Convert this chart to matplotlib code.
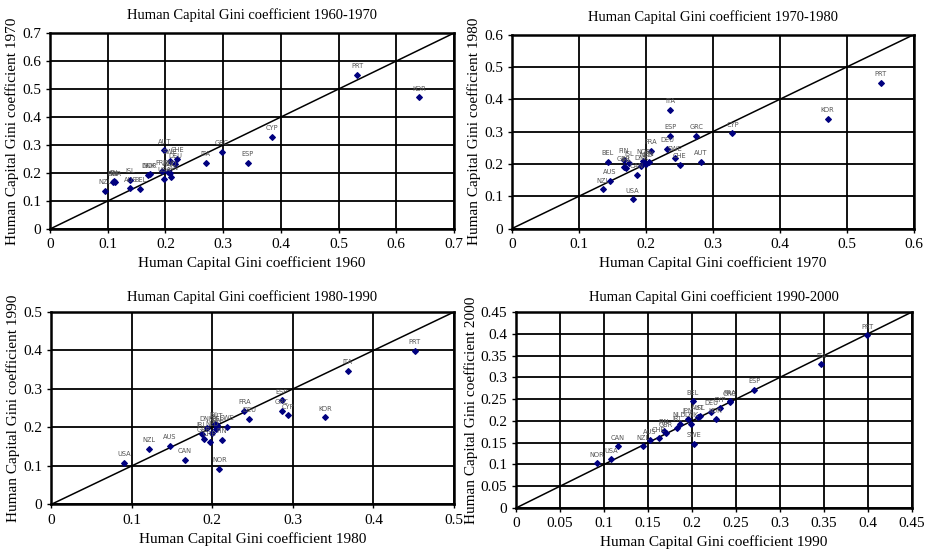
import matplotlib
matplotlib.use("Agg")
import matplotlib.pyplot as plt

countries = ["AUS", "AUT", "BEL", "CAN", "CHE", "CYP", "DEU", "DNK", "ESP", "FIN", "FRA", "GBR",
             "GRC", "IRL", "ISL", "ITA", "JPN", "KOR", "NLD", "NOR", "NZL", "PRT", "SWE", "USA"]

gini1960 = [0.139, 0.198, 0.156, 0.210, 0.220, 0.385, 0.217, 0.170, 0.343, 0.109, 0.194, 0.113,
            0.298, 0.111, 0.139, 0.270, 0.204, 0.640, 0.208, 0.173, 0.095, 0.532, 0.208, 0.197]
gini1970 = [0.146, 0.282, 0.143, 0.186, 0.250, 0.329, 0.232, 0.193, 0.236, 0.167, 0.207, 0.167,
            0.275, 0.170, 0.175, 0.236, 0.204, 0.471, 0.200, 0.196, 0.136, 0.550, 0.243, 0.180]
gini1980 = [0.147, 0.206, 0.206, 0.166, 0.197, 0.294, 0.246, 0.193, 0.286, 0.212, 0.240, 0.190,
            0.286, 0.187, 0.203, 0.368, 0.205, 0.340, 0.200, 0.209, 0.122, 0.451, 0.218, 0.091]
gini1990 = [0.152, 0.207, 0.201, 0.116, 0.162, 0.232, 0.222, 0.199, 0.271, 0.168, 0.243, 0.170,
            0.243, 0.183, 0.209, 0.347, 0.195, 0.227, 0.186, 0.092, 0.144, 0.399, 0.202, 0.108]
gini2000 = [0.156, 0.209, 0.245, 0.142, 0.160, 0.229, 0.221, 0.193, 0.271, 0.177, 0.245, 0.172,
            0.243, 0.184, 0.211, 0.330, 0.204, 0.204, 0.193, 0.103, 0.142, 0.397, 0.147, 0.112]

panels = [
    ("1960", "1970", gini1960, gini1970, 0.7, 0.1),
    ("1970", "1980", gini1970, gini1980, 0.6, 0.1),
    ("1980", "1990", gini1980, gini1990, 0.5, 0.1),
    ("1990", "2000", gini1990, gini2000, 0.45, 0.05),
]
boxes = [
    [0.0537, 0.5866, 0.434, 0.3538],
    [0.550, 0.5875, 0.4318, 0.3502],
    [0.0548, 0.0894, 0.4329, 0.3475],
    [0.5542, 0.0830, 0.4253, 0.3538],
]
title_pads = [10, 10, 8, 8]

plt.rcParams["font.family"] = "Liberation Serif"

fig = plt.figure(figsize=(9.31, 5.54), dpi=100)

for (y0, y1, xs, ys, top, step), box, tp in zip(panels, boxes, title_pads):
    ax = fig.add_axes(box)
    n = int(round(top / step))
    ticks = [round(i * step, 2) for i in range(n + 1)]
    ax.set_xlim(0, top)
    ax.set_ylim(0, top)
    ax.set_xticks(ticks)
    ax.set_yticks(ticks)
    ax.set_xticklabels(["0"] + ["%g" % t for t in ticks[1:]])
    ax.set_yticklabels(["0"] + ["%g" % t for t in ticks[1:]])
    ax.grid(True, color="black", linewidth=1.3)
    ax.set_axisbelow(True)
    for s in ax.spines.values():
        s.set_linewidth(1.8)
    ax.tick_params(labelsize=11, length=3, width=1, direction="out")
    ax.plot([0, top], [0, top], color="black", linewidth=1.1)
    ax.scatter(xs, ys, marker="D", s=8, color="#00007f", zorder=3)
    for c, x, y in zip(countries, xs, ys):
        ax.annotate(c, (x, y), xytext=(0, 4), textcoords="offset points",
                    ha="center", va="bottom", fontsize=4.8, color="#555555",
                    family="DejaVu Sans")
    ax.set_title("Human Capital Gini coefficient %s-%s" % (y0, y1), fontsize=10.5, pad=tp)
    ax.set_xlabel("Human Capital Gini coefficient %s" % y0, fontsize=11)
    ax.set_ylabel("Human Capital Gini coefficient %s" % y1, fontsize=11, labelpad=2)

fig.savefig("out.png", dpi=100)
